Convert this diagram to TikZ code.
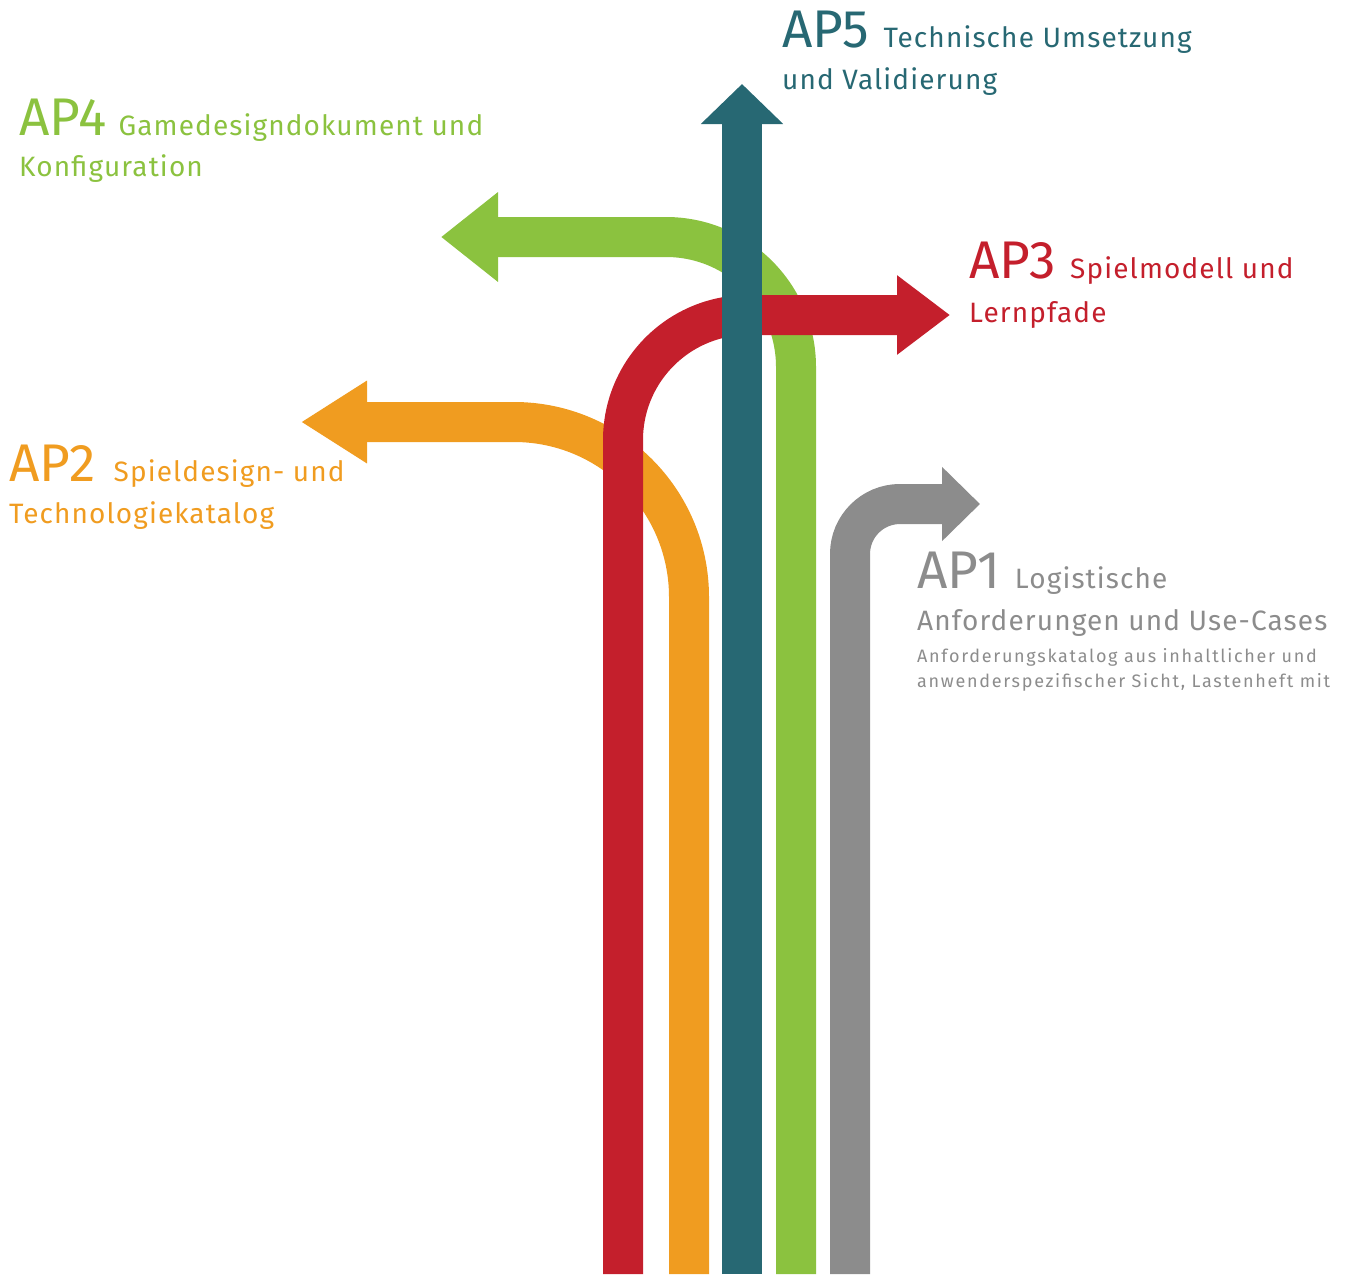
\documentclass[tikz,border=0pt]{standalone}
\usepackage{fontspec}
\setmainfont{Fira Sans}
\newfontfamily\titlefont{Fira Sans}[LetterSpace=4]
\newfontfamily\notefont{Fira Sans}[LetterSpace=9.5]
\usepackage{tikz}
\usetikzlibrary{arrows.meta,positioning,calc}

\definecolor{apred}{RGB}{196,31,44}
\definecolor{aporange}{RGB}{240,156,32}
\definecolor{apteal}{RGB}{39,104,115}
\definecolor{apgreen}{RGB}{139,194,63}
\definecolor{apgray}{RGB}{140,140,140}

\begin{document}
\begin{tikzpicture}[x=1pt,y=-1pt,
        band/.style={line width=40pt},
        big/.style={anchor=base west,inner sep=0pt,font=\fontsize{53}{53}\selectfont},
        title/.style={anchor=base west,inner sep=0pt,font=\titlefont\fontsize{28}{28}\selectfont},
        small/.style={anchor=base west,inner sep=0pt,font=\notefont\fontsize{18}{18}\selectfont}]
        \useasboundingbox (0,0) rectangle (1351,1274);

        % the five bands, drawn from back to front
        \draw[band,apgray,rounded corners=50pt,-{Triangle[width=72pt,length=38pt]}] (850,1274)--(850,504)--(980,504);       % AP1 turns right
        \draw[band,apgreen,rounded corners=130pt,-{Triangle[width=86pt,length=57pt]}] (796,1274)--(796,237)--(441,237);     % AP4 turns left
        \draw[band,aporange,rounded corners=175pt,-{Triangle[width=78pt,length=66pt]}] (689,1274)--(689,422)--(301,422);    % AP2 turns left
        \draw[band,apred,rounded corners=125pt,-{Triangle[width=76pt,length=53pt]}] (623,1274)--(623,315)--(950,315);       % AP3 turns right
        \draw[band,apteal,-{Triangle[width=80pt,length=40pt]}] (742,1274)--(742,84);                                         % AP5 straight up

        % labels
        \node[big,apteal] (ap5) at (782,47) {AP5};
        \node[title,apteal] (ap5-t) at ([xshift=14pt]ap5.base east) {Technische Umsetzung};
        \node[title,apteal] (ap5-t2) at ([yshift=-42pt]ap5.base west) {und Validierung};

        \node[big,apgreen] (ap4) at (19,135) {AP4};
        \node[title,apgreen] (ap4-t) at ([xshift=12pt]ap4.base east) {Gamedesigndokument und};
        \node[title,apgreen] (ap4-t2) at ([yshift=-41pt]ap4.base west) {Konfiguration};

        \node[big,apred] (ap3) at (969,278) {AP3};
        \node[title,apred] (ap3-t) at ([xshift=14pt]ap3.base east) {Spielmodell und};
        \node[title,apred] (ap3-t2) at ([yshift=-44pt]ap3.base west) {Lernpfade};

        \node[big,aporange] (ap2) at (9,481) {AP2};
        \node[title,aporange] (ap2-t) at ([xshift=18pt]ap2.base east) {Spieldesign- und};
        \node[title,aporange] (ap2-t2) at ([yshift=-42pt]ap2.base west) {Technologiekatalog};

        \node[big,apgray] (ap1) at (917,588) {AP1};
        \node[title,apgray] (ap1-t) at ([xshift=14pt]ap1.base east) {Logistische};
        \node[title,apgray] (ap1-t2) at ([yshift=-42pt]ap1.base west) {Anforderungen und Use-Cases};
        \node[small,apgray] (ap1-s) at ([yshift=-32pt]ap1-t2.base west) {Anforderungskatalog aus inhaltlicher und};
        \node[small,apgray] (ap1-s2) at ([yshift=-25pt]ap1-s.base west) {anwenderspezifischer Sicht, Lastenheft mit};
\end{tikzpicture}
\end{document}
